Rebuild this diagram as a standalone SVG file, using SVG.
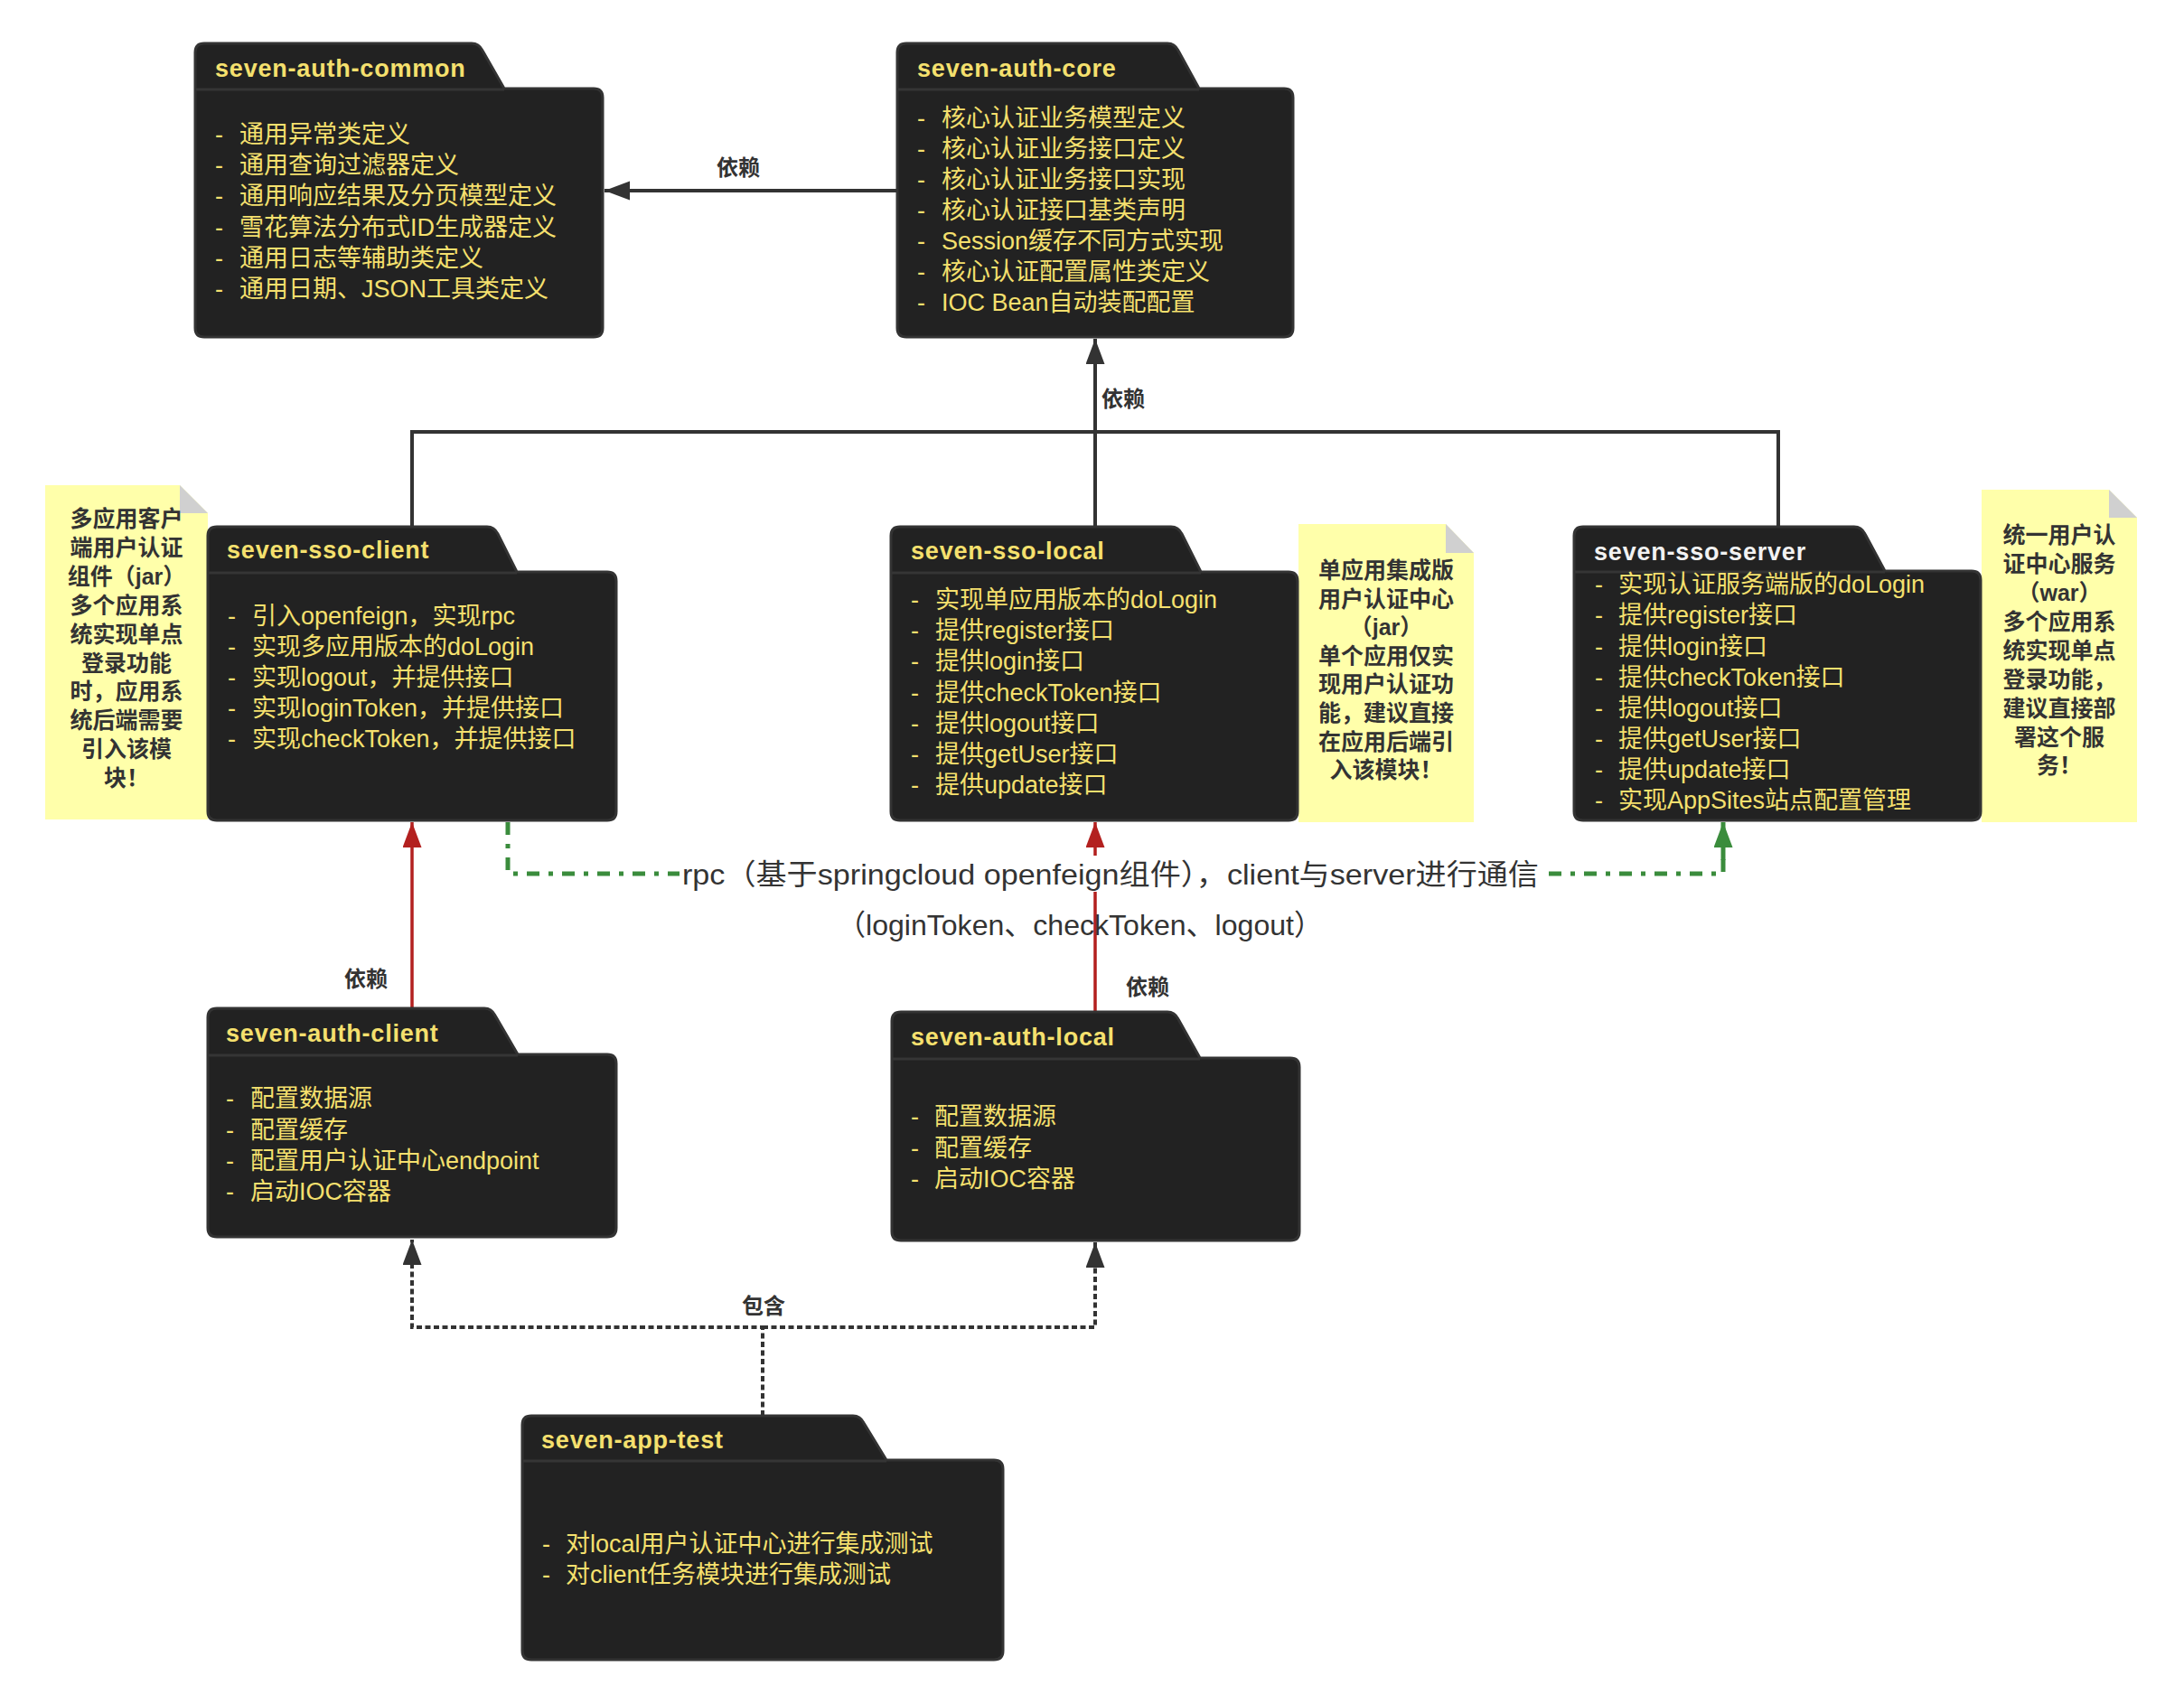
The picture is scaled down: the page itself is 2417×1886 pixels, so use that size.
<svg xmlns="http://www.w3.org/2000/svg" width="2417" height="1886" viewBox="0 0 2417 1886">
<style>
text{font-family:'Liberation Sans','Noto Sans CJK SC',sans-serif}
.box{fill:#222;stroke:#333;stroke-width:3}
.sep{stroke:#353535;stroke-width:3}
.title{font-size:27px;font-weight:bold;fill:#f5e06e;letter-spacing:0.8px}
.item{font-size:27px;fill:#f5e06e}
.note{fill:#ffffaa}
.fold{fill:#d0d0d0}
.nt{font-size:25px;font-weight:bold;fill:#333;text-anchor:middle}
.lbl{font-size:24px;font-weight:bold;fill:#333;text-anchor:middle}
.rpc{font-size:32px;fill:#333;text-anchor:middle}
.dark{fill:none;stroke:#333;stroke-width:4}
.red{fill:none;stroke:#b3201f;stroke-width:3.5}
.green{fill:none;stroke:#3a8c3c;stroke-width:5;stroke-dasharray:14,10,5,10}
.dot{fill:none;stroke:#333;stroke-width:4;stroke-dasharray:6,3.5}
</style>
<defs>
<marker id="aDark" markerUnits="userSpaceOnUse" markerWidth="30" markerHeight="22" refX="28" refY="10.5" orient="auto"><path d="M0,0 L28,10.5 L0,21 Z" fill="#333"/></marker>
<marker id="aRed" markerUnits="userSpaceOnUse" markerWidth="30" markerHeight="22" refX="28" refY="10.5" orient="auto"><path d="M0,0 L28,10.5 L0,21 Z" fill="#b3201f"/></marker>
<marker id="aGreen" markerUnits="userSpaceOnUse" markerWidth="30" markerHeight="22" refX="28" refY="10.5" orient="auto"><path d="M0,0 L28,10.5 L0,21 Z" fill="#3a8c3c"/></marker>
</defs>
<rect width="2417" height="1886" fill="#fff"/>

<!-- notes -->
<g id="note-client">
<path class="note" d="M50,537 H199 L230,568 V907 H50 Z"/>
<path class="fold" d="M199,537 L230,568 H199 Z"/>
<text class="nt" x="140" y="583">多应用客户</text>
<text class="nt" x="140" y="615">端用户认证</text>
<text class="nt" x="140" y="647">组件（jar）</text>
<text class="nt" x="140" y="679">多个应用系</text>
<text class="nt" x="140" y="711">统实现单点</text>
<text class="nt" x="140" y="743">登录功能</text>
<text class="nt" x="140" y="774">时，应用系</text>
<text class="nt" x="140" y="806">统后端需要</text>
<text class="nt" x="140" y="838">引入该模</text>
<text class="nt" x="140" y="870">块！</text>
</g>
<g id="note-local">
<path class="note" d="M1437,580 H1600 L1631,612 V910 H1437 Z"/>
<path class="fold" d="M1600,580 L1631,612 H1600 Z"/>
<text class="nt" x="1534" y="640">单应用集成版</text>
<text class="nt" x="1534" y="672">用户认证中心</text>
<text class="nt" x="1534" y="703">（jar）</text>
<text class="nt" x="1534" y="735">单个应用仅实</text>
<text class="nt" x="1534" y="766">现用户认证功</text>
<text class="nt" x="1534" y="798">能，建议直接</text>
<text class="nt" x="1534" y="830">在应用后端引</text>
<text class="nt" x="1534" y="861">入该模块！</text>
</g>
<g id="note-server">
<path class="note" d="M2193,542 H2334 L2365,573 V910 H2193 Z"/>
<path class="fold" d="M2334,542 L2365,573 H2334 Z"/>
<text class="nt" x="2279" y="601">统一用户认</text>
<text class="nt" x="2279" y="633">证中心服务</text>
<text class="nt" x="2279" y="665">（war）</text>
<text class="nt" x="2279" y="697">多个应用系</text>
<text class="nt" x="2279" y="729">统实现单点</text>
<text class="nt" x="2279" y="761">登录功能，</text>
<text class="nt" x="2279" y="793">建议直接部</text>
<text class="nt" x="2279" y="825">署这个服</text>
<text class="nt" x="2279" y="856">务！</text>
</g>

<!-- connectors -->
<g id="connectors">
<path class="dark" d="M993,211 H669" marker-end="url(#aDark)"/>
<path class="dark" d="M456,583 V478 H1968 V583"/>
<path class="dark" d="M1212,583 V375" marker-end="url(#aDark)"/>
<path class="red" d="M456,1116 V910" marker-end="url(#aRed)"/>
<path class="red" d="M1212,1120 V910" marker-end="url(#aRed)"/>
<path class="green" d="M562,910 V967 H1907 V950"/>
<path fill="none" stroke="#3a8c3c" stroke-width="5" d="M1907,952 V910" marker-end="url(#aGreen)"/>
<path class="dot" d="M844,1567 V1469 H456 V1372" marker-end="url(#aDark)"/>
<path class="dot" d="M844,1469 H1212 V1375" marker-end="url(#aDark)"/>
<rect x="752" y="947" width="956" height="40" fill="#fff"/>
<text class="lbl" x="817" y="194">依赖</text>
<text class="lbl" x="1243" y="450">依赖</text>
<text class="lbl" x="405" y="1092">依赖</text>
<text class="lbl" x="1270" y="1101">依赖</text>
<text class="lbl" x="845" y="1454">包含</text>
<text class="rpc" x="1229" y="979" textLength="948" lengthAdjust="spacingAndGlyphs">rpc（基于springcloud openfeign组件），client与server进行通信</text>
<text class="rpc" x="1195" y="1035" textLength="538" lengthAdjust="spacingAndGlyphs">（loginToken、checkToken、logout）</text>
</g>

<!-- nodes -->
<g id="seven-auth-common">
<path class="box" d="M216,58 Q216,48 226,48 H522 Q530,48 534,56 L558,98 H657 Q667,98 667,108 V363 Q667,373 657,373 H226 Q216,373 216,363 Z"/>
<line class="sep" x1="217" y1="99" x2="558" y2="99"/>
<text class="title" x="238" y="85">seven-auth-common</text>
<text class="item" x="238" y="158">- <tspan x="265">通用异常类定义</tspan></text>
<text class="item" x="238" y="192">- <tspan x="265">通用查询过滤器定义</tspan></text>
<text class="item" x="238" y="226">- <tspan x="265">通用响应结果及分页模型定义</tspan></text>
<text class="item" x="238" y="261">- <tspan x="265">雪花算法分布式ID生成器定义</tspan></text>
<text class="item" x="238" y="295">- <tspan x="265">通用日志等辅助类定义</tspan></text>
<text class="item" x="238" y="329">- <tspan x="265">通用日期、JSON工具类定义</tspan></text>
</g>
<g id="seven-auth-core">
<path class="box" d="M993,58 Q993,48 1003,48 H1292 Q1300,48 1304,56 L1327,98 H1421 Q1431,98 1431,108 V363 Q1431,373 1421,373 H1003 Q993,373 993,363 Z"/>
<line class="sep" x1="994" y1="99" x2="1327" y2="99"/>
<text class="title" x="1015" y="85">seven-auth-core</text>
<text class="item" x="1015" y="140">- <tspan x="1042">核心认证业务模型定义</tspan></text>
<text class="item" x="1015" y="174">- <tspan x="1042">核心认证业务接口定义</tspan></text>
<text class="item" x="1015" y="208">- <tspan x="1042">核心认证业务接口实现</tspan></text>
<text class="item" x="1015" y="242">- <tspan x="1042">核心认证接口基类声明</tspan></text>
<text class="item" x="1015" y="276">- <tspan x="1042">Session缓存不同方式实现</tspan></text>
<text class="item" x="1015" y="310">- <tspan x="1042">核心认证配置属性类定义</tspan></text>
<text class="item" x="1015" y="344">- <tspan x="1042">IOC Bean自动装配配置</tspan></text>
</g>
<g id="seven-sso-client">
<path class="box" d="M230,593 Q230,583 240,583 H539 Q547,583 551,591 L572,633 H672 Q682,633 682,643 V898 Q682,908 672,908 H240 Q230,908 230,898 Z"/>
<line class="sep" x1="231" y1="634" x2="572" y2="634"/>
<text class="title" x="251" y="618">seven-sso-client</text>
<text class="item" x="252" y="691">- <tspan x="279">引入openfeign，实现rpc</tspan></text>
<text class="item" x="252" y="725">- <tspan x="279">实现多应用版本的doLogin</tspan></text>
<text class="item" x="252" y="759">- <tspan x="279">实现logout，并提供接口</tspan></text>
<text class="item" x="252" y="793">- <tspan x="279">实现loginToken，并提供接口</tspan></text>
<text class="item" x="252" y="827">- <tspan x="279">实现checkToken，并提供接口</tspan></text>
</g>
<g id="seven-sso-local">
<path class="box" d="M986,593 Q986,583 996,583 H1296 Q1304,583 1308,591 L1329,633 H1426 Q1436,633 1436,643 V898 Q1436,908 1426,908 H996 Q986,908 986,898 Z"/>
<line class="sep" x1="987" y1="634" x2="1329" y2="634"/>
<text class="title" x="1008" y="619">seven-sso-local</text>
<text class="item" x="1008" y="673">- <tspan x="1035">实现单应用版本的doLogin</tspan></text>
<text class="item" x="1008" y="707">- <tspan x="1035">提供register接口</tspan></text>
<text class="item" x="1008" y="741">- <tspan x="1035">提供login接口</tspan></text>
<text class="item" x="1008" y="776">- <tspan x="1035">提供checkToken接口</tspan></text>
<text class="item" x="1008" y="810">- <tspan x="1035">提供logout接口</tspan></text>
<text class="item" x="1008" y="844">- <tspan x="1035">提供getUser接口</tspan></text>
<text class="item" x="1008" y="878">- <tspan x="1035">提供update接口</tspan></text>
</g>
<g id="seven-sso-server">
<path class="box" d="M1742,593 Q1742,583 1752,583 H2052 Q2060,583 2064,591 L2086,632 H2182 Q2192,632 2192,642 V898 Q2192,908 2182,908 H1752 Q1742,908 1742,898 Z"/>
<line class="sep" x1="1743" y1="633" x2="2086" y2="633"/>
<text class="title" x="1764" y="620" style="fill:#f2f2f2">seven-sso-server</text>
<text class="item" x="1765" y="656">- <tspan x="1791">实现认证服务端版的doLogin</tspan></text>
<text class="item" x="1765" y="690">- <tspan x="1791">提供register接口</tspan></text>
<text class="item" x="1765" y="725">- <tspan x="1791">提供login接口</tspan></text>
<text class="item" x="1765" y="759">- <tspan x="1791">提供checkToken接口</tspan></text>
<text class="item" x="1765" y="793">- <tspan x="1791">提供logout接口</tspan></text>
<text class="item" x="1765" y="827">- <tspan x="1791">提供getUser接口</tspan></text>
<text class="item" x="1765" y="861">- <tspan x="1791">提供update接口</tspan></text>
<text class="item" x="1765" y="895">- <tspan x="1791">实现AppSites站点配置管理</tspan></text>
</g>
<g id="seven-auth-client">
<path class="box" d="M230,1126 Q230,1116 240,1116 H536 Q544,1116 548,1124 L573,1167 H672 Q682,1167 682,1177 V1359 Q682,1369 672,1369 H240 Q230,1369 230,1359 Z"/>
<line class="sep" x1="231" y1="1168" x2="573" y2="1168"/>
<text class="title" x="250" y="1153">seven-auth-client</text>
<text class="item" x="250" y="1225">- <tspan x="277">配置数据源</tspan></text>
<text class="item" x="250" y="1260">- <tspan x="277">配置缓存</tspan></text>
<text class="item" x="250" y="1294">- <tspan x="277">配置用户认证中心endpoint</tspan></text>
<text class="item" x="250" y="1328">- <tspan x="277">启动IOC容器</tspan></text>
</g>
<g id="seven-auth-local">
<path class="box" d="M987,1130 Q987,1120 997,1120 H1292 Q1300,1120 1304,1128 L1328,1171 H1428 Q1438,1171 1438,1181 V1363 Q1438,1373 1428,1373 H997 Q987,1373 987,1363 Z"/>
<line class="sep" x1="988" y1="1172" x2="1328" y2="1172"/>
<text class="title" x="1008" y="1157">seven-auth-local</text>
<text class="item" x="1008" y="1245">- <tspan x="1034">配置数据源</tspan></text>
<text class="item" x="1008" y="1280">- <tspan x="1034">配置缓存</tspan></text>
<text class="item" x="1008" y="1314">- <tspan x="1034">启动IOC容器</tspan></text>
</g>
<g id="seven-app-test">
<path class="box" d="M578,1577 Q578,1567 588,1567 H944 Q952,1567 956,1575 L981,1616 H1100 Q1110,1616 1110,1626 V1827 Q1110,1837 1100,1837 H588 Q578,1837 578,1827 Z"/>
<line class="sep" x1="579" y1="1617" x2="981" y2="1617"/>
<text class="title" x="599" y="1603">seven-app-test</text>
<text class="item" x="600" y="1718">- <tspan x="626">对local用户认证中心进行集成测试</tspan></text>
<text class="item" x="600" y="1752">- <tspan x="626">对client任务模块进行集成测试</tspan></text>
</g>
</svg>
